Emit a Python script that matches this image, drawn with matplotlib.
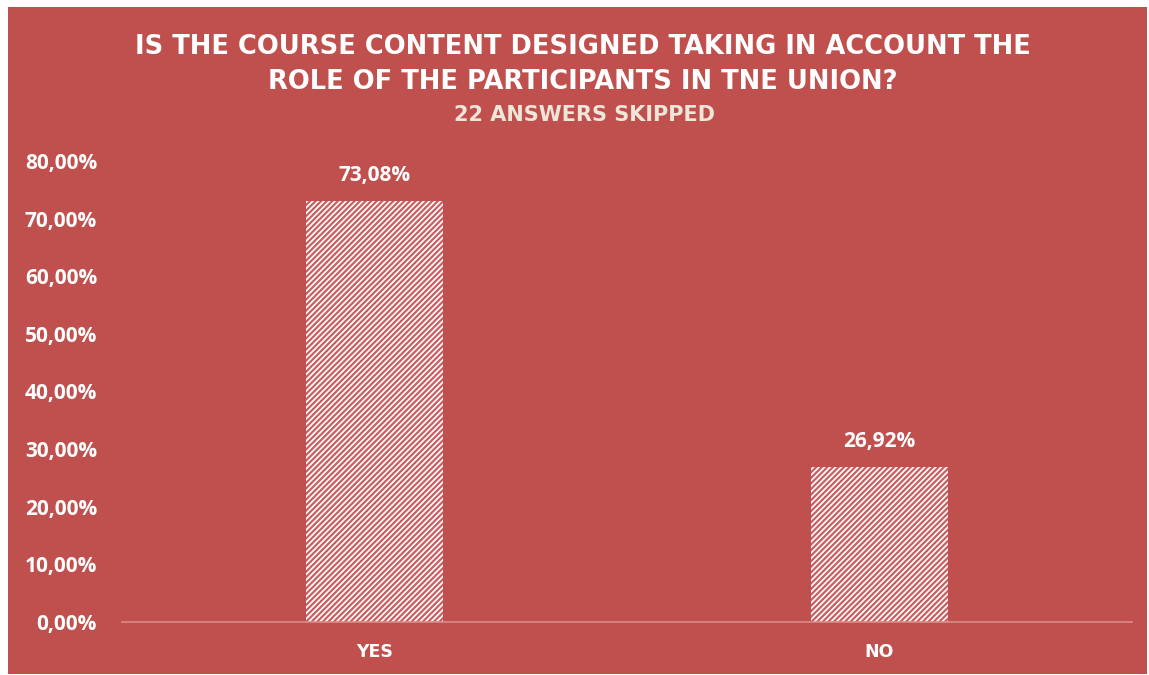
import matplotlib
matplotlib.use("Agg")
import matplotlib.pyplot as plt
from matplotlib.patches import Rectangle
from matplotlib.ticker import FuncFormatter

categories = ["YES", "NO"]
values = [73.08, 26.92]
yticks = [0, 10, 20, 30, 40, 50, 60, 70, 80]
title_lines = ["IS THE COURSE CONTENT DESIGNED TAKING IN ACCOUNT THE",
               "ROLE OF THE PARTICIPANTS IN TNE UNION?"]
subtitle = "22 ANSWERS SKIPPED"

BG = "#C0504D"
W, H = 1149, 675
plt.rcParams["font.family"] = ["Open Sans", "DejaVu Sans"]
plt.rcParams["hatch.color"] = "#CA5E60"
plt.rcParams["hatch.linewidth"] = 1.6

fig = plt.figure(figsize=(W / 100, H / 100), dpi=100)
fig.patch.set_facecolor("white")
fig.patches.append(Rectangle((8 / W, 1 - 674 / H), (1147 - 8) / W, (674 - 7) / H,
                             transform=fig.transFigure, facecolor=BG,
                             edgecolor="none", zorder=-5))

# plot area: x 122..1132, y 161 (80%) .. 622 (0%)
ax = fig.add_axes([122 / W, 1 - 622 / H, (1132 - 122) / W, (622 - 161) / H])
ax.set_facecolor("none")
ax.set_xlim(-0.5, 1.5)
ax.set_ylim(0, 80)

x = list(range(len(categories)))
bars = ax.bar(x, values, width=0.271, color="white", edgecolor="#CA5E60",
              linewidth=0, hatch="//////", zorder=2)

for xi, v in zip(x, values):
    ax.annotate(f"{v:.2f}%".replace(".", ","), (xi, v), xytext=(0, 18),
                textcoords="offset points", ha="center", va="center",
                color="white", fontsize=15, fontweight="bold")

for s in ["top", "right", "left"]:
    ax.spines[s].set_visible(False)
ax.spines["bottom"].set_color("#D98C8A")
ax.spines["bottom"].set_linewidth(1.2)
ax.set_yticks(yticks)
ax.yaxis.set_major_formatter(FuncFormatter(lambda v, p: f"{v:.2f}%".replace(".", ",")))
ax.set_xticks(x)
ax.set_xticklabels(categories)
ax.tick_params(axis="y", length=0, pad=18, labelsize=15, labelcolor="white")
ax.tick_params(axis="x", length=0, pad=15, labelsize=12.5, labelcolor="white")
for lbl in ax.get_yticklabels() + ax.get_xticklabels():
    lbl.set_fontweight("bold")
for lbl in ax.get_xticklabels():
    lbl.set_family("DejaVu Sans")

fig.text(583 / W, 1 - 47 / H, title_lines[0], ha="center", va="center",
         color="white", fontsize=18.5, fontweight="bold", family="DejaVu Sans")
fig.text(583 / W, 1 - 82 / H, title_lines[1], ha="center", va="center",
         color="white", fontsize=18.5, fontweight="bold", family="DejaVu Sans")
fig.text(584 / W, 1 - 115 / H, subtitle, ha="center", va="center",
         color="#EFE6DA", fontsize=15, fontweight="bold", family="DejaVu Sans")

fig.savefig("out.png", dpi=100, facecolor=fig.get_facecolor())
